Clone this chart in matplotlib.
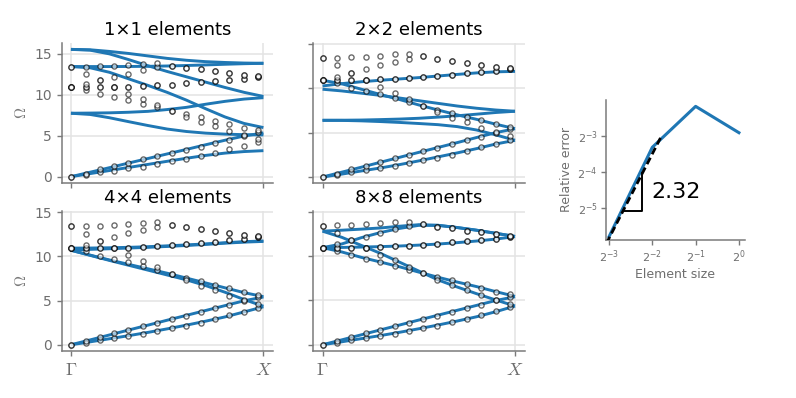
import matplotlib.pyplot as plt
import numpy as np

# wave number along Gamma -> X (normalised)
k = [0.0, 0.1, 0.2, 0.3, 0.4, 0.5, 0.6, 0.7, 0.8, 0.9, 1.0]

# FEM dispersion branches for each mesh
bands_1x1 = [
    [15.55, 15.5, 15.3, 15.05, 14.75, 14.45, 14.22, 14.05, 13.95, 13.88, 13.85],
    [15.55, 15.45, 15.0, 14.3, 13.55, 12.85, 12.2, 11.55, 10.9, 10.3, 9.8],
    [13.45, 13.45, 13.45, 13.46, 13.48, 13.52, 13.58, 13.65, 13.73, 13.8, 13.85],
    [13.45, 13.3, 12.75, 11.95, 11.15, 10.3, 9.35, 8.3, 7.3, 6.5, 6.0],
    [7.75, 7.77, 7.8, 7.87, 7.98, 8.2, 8.47, 8.85, 9.2, 9.48, 9.65],
    [7.75, 7.6, 7.2, 6.72, 6.25, 5.82, 5.52, 5.32, 5.2, 5.13, 5.1],
    [0.0, 0.55, 1.1, 1.67, 2.22, 2.78, 3.33, 3.9, 4.45, 4.97, 5.35],
    [0.0, 0.38, 0.75, 1.13, 1.5, 1.88, 2.25, 2.6, 2.88, 3.07, 3.18],
]
bands_2x2 = [
    [10.26, 10.52, 10.73, 10.9, 11.05, 11.2, 11.38, 11.56, 11.73, 11.85, 11.9],
    [10.9, 10.5, 9.9, 9.3, 8.73, 8.12, 7.55, 7.0, 6.5, 5.95, 5.45],
    [9.89, 9.7, 9.45, 9.2, 8.9, 8.6, 8.3, 8.0, 7.75, 7.55, 7.41],
    [6.39, 6.4, 6.42, 6.47, 6.53, 6.62, 6.75, 6.9, 7.08, 7.27, 7.41],
    [6.39, 6.38, 6.33, 6.25, 6.15, 6.03, 5.9, 5.68, 5.3, 4.75, 4.14],
    [0.0, 0.55, 1.1, 1.66, 2.22, 2.78, 3.33, 3.88, 4.45, 5.0, 5.45],
    [0.0, 0.33, 0.68, 1.02, 1.4, 1.82, 2.27, 2.72, 3.2, 3.72, 4.14],
]
bands_4x4 = [
    [10.94, 10.95, 10.98, 11.03, 11.1, 11.2, 11.3, 11.42, 11.55, 11.67, 11.75],
    [10.75, 10.8, 10.87, 10.95, 11.03, 11.13, 11.24, 11.36, 11.5, 11.62, 11.7],
    [10.7, 10.15, 9.6, 9.1, 8.6, 8.1, 7.55, 7.0, 6.45, 5.9, 5.45],
    [10.7, 10.12, 9.55, 9.0, 8.45, 7.9, 7.35, 6.7, 5.95, 5.12, 4.36],
    [0.0, 0.55, 1.11, 1.67, 2.22, 2.78, 3.33, 3.88, 4.43, 4.98, 5.41],
    [0.0, 0.33, 0.68, 1.03, 1.4, 1.8, 2.22, 2.67, 3.15, 3.72, 4.3],
]
bands_8x8 = [
    [12.79, 12.9, 13.02, 13.15, 13.35, 13.52, 13.45, 13.2, 12.9, 12.55, 12.2],
    [10.94, 11.35, 12.05, 12.63, 13.1, 13.45, 13.45, 13.2, 12.9, 12.55, 12.2],
    [10.94, 10.96, 11.0, 11.05, 11.12, 11.22, 11.34, 11.5, 11.68, 11.9, 12.18],
    [12.79, 12.1, 11.2, 10.3, 9.3, 8.3, 7.3, 6.5, 5.75, 5.04, 4.36],
    [10.94, 10.45, 9.85, 9.32, 8.78, 8.18, 7.6, 7.06, 6.55, 5.98, 5.45],
    [0.0, 0.55, 1.11, 1.67, 2.22, 2.78, 3.33, 3.88, 4.43, 4.98, 5.41],
    [0.0, 0.33, 0.68, 1.03, 1.4, 1.8, 2.22, 2.67, 3.15, 3.72, 4.36],
]

# reference solution (circles)
k_ref = [0.0, 0.076, 0.149, 0.226, 0.299, 0.375, 0.448, 0.523, 0.597, 0.674, 0.748, 0.823, 0.899, 0.972]
ref_a1 = [0.0, 0.23, 0.53, 0.75, 1.02, 1.24, 1.58, 1.92, 2.14, 2.52, 2.93, 3.35, 3.76, 4.21]
ref_a2 = [0.0, 0.38, 0.9, 1.28, 1.65, 2.1, 2.48, 2.9, 3.23, 3.68, 4.14, 4.51, 5.0, 5.41]
ref_m1 = [10.92, 10.56, 10.08, 9.7, 9.32, 8.87, 8.46, 8.05, 7.6, 7.26, 6.8, 6.43, 5.98, 5.68]
ref_m2 = [13.43, 12.58, 11.77, 10.94, 10.15, 9.5, 8.8, 8.05, 7.3, 6.7, 6.17, 5.56, 5.04, 4.59]
ref_c = [10.92, 10.94, 10.94, 10.94, 11.0, 11.09, 11.17, 11.24, 11.39, 11.54, 11.69, 11.84, 11.95, 12.18]
ref_r = [10.92, 11.3, 11.77, 12.15, 12.6, 12.98, 13.35, 13.58, 13.3, 13.1, 12.85, 12.67, 12.45, 12.28]
ref_top = [13.43, 13.45, 13.48, 13.55, 13.68, 13.82, 13.85, 13.58, 13.3, 13.1, 12.85, 12.67, 12.45, 12.28]
ref_modes = [ref_a1, ref_a2, ref_m1, ref_m2, ref_c, ref_c, ref_r, ref_top]

titles = ["1×1 elements", "2×2 elements", "4×4 elements", "8×8 elements"]

# convergence
sizes = [2**-3, 2**-2, 2**-1, 1.0]
errors = [0.0182, 0.100, 0.218, 0.132]
fit_slope = 2.32
fit_coef = 2.2
fit_sizes = [0.12, 0.287]
tri_sizes = [0.156, 0.213]

blue = "#1f77b4"
gray = "#7a7a7a"
lgray = "#6e6e6e"

fig = plt.figure(figsize=(7.96, 3.98), dpi=100)

rects = [
    [0.0775, 0.540, 0.2655, 0.352],
    [0.3936, 0.540, 0.2655, 0.352],
    [0.0775, 0.118, 0.2655, 0.352],
    [0.3936, 0.118, 0.2655, 0.352],
]
ylims = [(-0.78, 16.33), (-0.68, 15.1), (-0.71, 15.15), (-0.71, 15.07)]
all_bands = [bands_1x1, bands_2x2, bands_4x4, bands_8x8]

for i in range(4):
    ax = fig.add_axes(rects[i])
    for b in all_bands[i]:
        ax.plot(k, b, color=blue, lw=2.1, solid_capstyle="butt", zorder=2)
    for m in ref_modes:
        ax.plot(k_ref, m, "o", ls="none", ms=3.7, mew=1.0, mfc="white",
                mec="black", alpha=0.58, zorder=3)
    ax.set_xlim(-0.048, 1.05)
    ax.set_ylim(*ylims[i])
    ax.set_xticks([0, 1])
    ax.set_yticks([0, 5, 10, 15])
    ax.grid(True, color="#e3e3e3", lw=1.1, zorder=0)
    ax.set_axisbelow(True)
    for s in ["top", "right"]:
        ax.spines[s].set_visible(False)
    for s in ["left", "bottom"]:
        ax.spines[s].set_color(gray)
        ax.spines[s].set_linewidth(1.1)
    ax.tick_params(colors=gray, length=3.5, width=1, labelsize=10, labelcolor=lgray)
    ax.set_title(titles[i], fontsize=13)
    if i in (0, 2):
        ax.set_ylabel(r"$\Omega$", color=gray, fontsize=11, math_fontfamily="cm")
    else:
        ax.set_yticklabels([])
    if i in (2, 3):
        ax.set_xticklabels([r"$\Gamma$", r"$X$"], fontsize=13, math_fontfamily="cm", color=lgray)
    else:
        ax.set_xticklabels([])

# error plot
ax = fig.add_axes([0.7613, 0.397, 0.1746, 0.352])
ax.set_xscale("log", base=2)
ax.set_yscale("log", base=2)
ax.plot(sizes, errors, color=blue, lw=2.2, zorder=2)
fx = np.array(fit_sizes)
ax.plot(fx, fit_coef * fx**fit_slope, color="black", lw=2, dashes=(2.6, 1.4), zorder=3)
t0, t1 = tri_sizes
y0 = fit_coef * t0**fit_slope
y1 = fit_coef * t1**fit_slope
ax.plot([t0, t1, t1], [y0, y0, y1], color="black", lw=1.4, zorder=3)
ax.text(t1 * 1.15, np.sqrt(y0 * y1), f"{fit_slope:.2f}", fontsize=16, va="center", ha="left")
ax.set_xlim(2**-3.07, 2**0.14)
ax.set_ylim(2**-5.87, 2**-2.02)
ax.set_xticks([2**-3, 2**-2, 2**-1, 1])
ax.set_yticks([2**-5, 2**-4, 2**-3])
ax.minorticks_off()
for s in ["top", "right"]:
    ax.spines[s].set_visible(False)
for s in ["left", "bottom"]:
    ax.spines[s].set_color(gray)
    ax.spines[s].set_linewidth(1.1)
ax.tick_params(colors=gray, length=3.5, width=1, labelsize=8, labelcolor=lgray, pad=2.5)
ax.set_xlabel("Element size", color=lgray, fontsize=9, labelpad=2)
ax.set_ylabel("Relative error", color=lgray, fontsize=9, labelpad=3)

fig.savefig("out.png", dpi=100)
